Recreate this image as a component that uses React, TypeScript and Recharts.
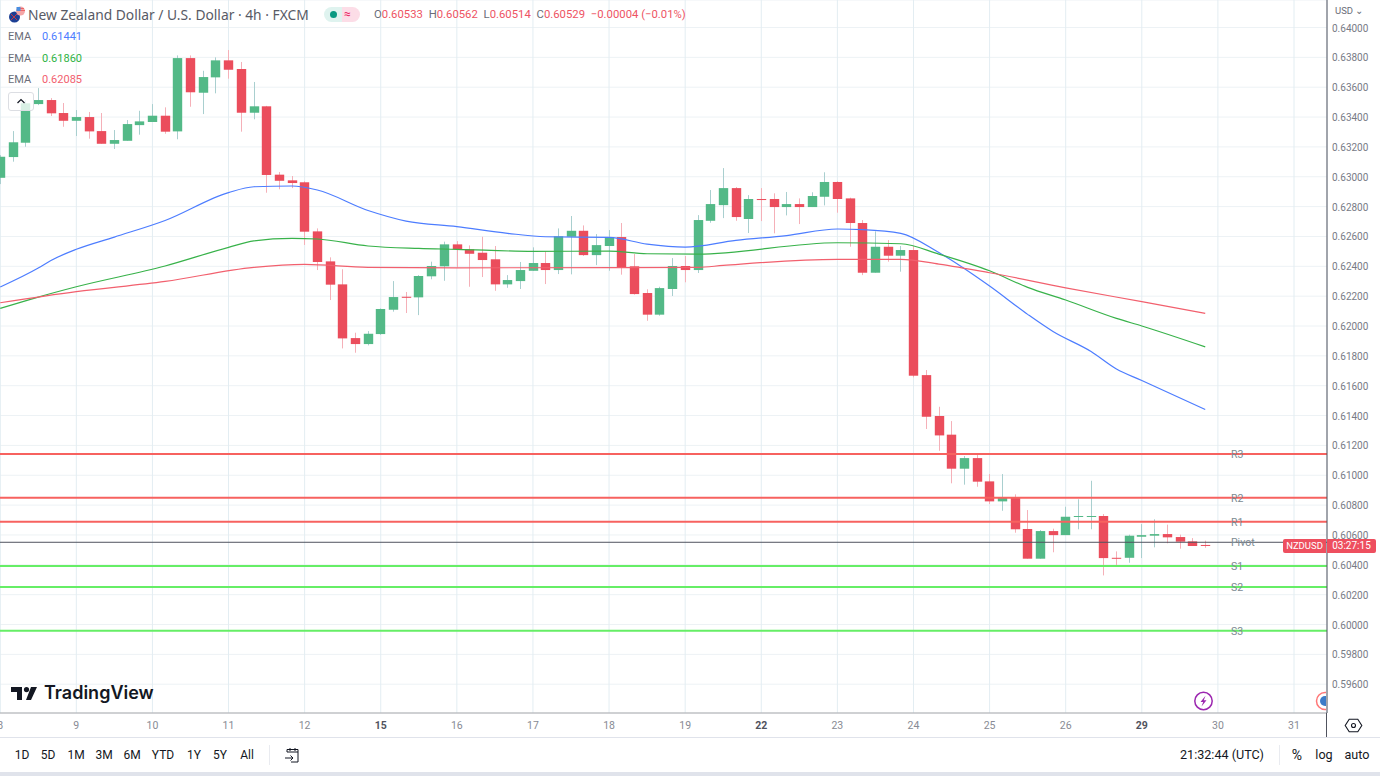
import React from 'react';
import { ComposedChart, Bar, Line, XAxis, YAxis, CartesianGrid, ReferenceLine } from 'recharts';

const opens = [0.62993,0.63132,0.63228,0.63487,0.63514,0.63427,0.63375,0.63400,0.63306,0.63221,0.63241,0.63346,0.63367,0.63409,0.63304,0.63795,0.63563,0.63666,0.63780,0.63722,0.63429,0.63472,0.63014,0.62976,0.62963,0.62634,0.62433,0.62279,0.61919,0.61879,0.61946,0.62109,0.62196,0.62192,0.62333,0.62400,0.62547,0.62514,0.62491,0.62447,0.62279,0.62301,0.62370,0.62422,0.62375,0.62598,0.62638,0.62475,0.62536,0.62596,0.62400,0.62221,0.62076,0.62248,0.62402,0.62375,0.62705,0.62810,0.62924,0.62717,0.62851,0.62851,0.62797,0.62817,0.62797,0.62866,0.62965,0.62855,0.62690,0.62357,0.62531,0.62471,0.62509,0.61671,0.61397,0.61272,0.61044,0.61115,0.60959,0.60825,0.60849,0.60640,0.60441,0.60626,0.60599,0.60722,0.60724,0.60727,0.60447,0.60447,0.60588,0.60595,0.60606,0.60586,0.60557,0.60533];
const highs = [0.63145,0.63306,0.63514,0.63594,0.63527,0.63494,0.63447,0.63434,0.63427,0.63313,0.63380,0.63442,0.63487,0.63465,0.63813,0.63813,0.63710,0.63800,0.63849,0.63769,0.63635,0.63475,0.63032,0.63005,0.62970,0.62654,0.62460,0.62380,0.61955,0.61966,0.62118,0.62301,0.62228,0.62341,0.62431,0.62565,0.62569,0.62540,0.62598,0.62536,0.62341,0.62429,0.62527,0.62500,0.62654,0.62737,0.62674,0.62616,0.62643,0.62690,0.62482,0.62246,0.62263,0.62455,0.62469,0.62743,0.62911,0.63058,0.62931,0.62877,0.62924,0.62889,0.62898,0.62855,0.62896,0.63030,0.62970,0.62860,0.62710,0.62634,0.62576,0.62536,0.62536,0.61705,0.61459,0.61363,0.61129,0.61140,0.61008,0.61008,0.60872,0.60767,0.60633,0.60642,0.60789,0.60839,0.60963,0.60740,0.60490,0.60602,0.60673,0.60705,0.60669,0.60602,0.60579,0.60562];
const lows = [0.62951,0.63101,0.63201,0.63480,0.63407,0.63335,0.63273,0.63255,0.63221,0.63186,0.63241,0.63282,0.63367,0.63288,0.63251,0.63469,0.63420,0.63559,0.63657,0.63302,0.63385,0.62893,0.62916,0.62924,0.62543,0.62375,0.62174,0.61850,0.61821,0.61870,0.61940,0.62096,0.62087,0.62073,0.62313,0.62303,0.62393,0.62263,0.62328,0.62236,0.62256,0.62248,0.62370,0.62281,0.62348,0.62346,0.62469,0.62408,0.62370,0.62344,0.62210,0.62035,0.62069,0.62201,0.62293,0.62355,0.62692,0.62723,0.62705,0.62623,0.62703,0.62621,0.62741,0.62683,0.62797,0.62808,0.62759,0.62531,0.62341,0.62357,0.62431,0.62364,0.61656,0.61310,0.61164,0.60946,0.60937,0.60923,0.60807,0.60762,0.60615,0.60441,0.60441,0.60484,0.60599,0.60638,0.60638,0.60329,0.60394,0.60414,0.60445,0.60517,0.60544,0.60508,0.60526,0.60514];
const closes = [0.63134,0.63231,0.63492,0.63514,0.63425,0.63375,0.63400,0.63304,0.63221,0.63246,0.63353,0.63371,0.63409,0.63302,0.63795,0.63566,0.63668,0.63780,0.63717,0.63429,0.63472,0.63012,0.62973,0.62958,0.62632,0.62429,0.62277,0.61917,0.61879,0.61948,0.62114,0.62194,0.62189,0.62335,0.62402,0.62547,0.62514,0.62484,0.62442,0.62279,0.62308,0.62375,0.62422,0.62375,0.62601,0.62638,0.62475,0.62542,0.62596,0.62395,0.62214,0.62076,0.62254,0.62402,0.62375,0.62710,0.62817,0.62924,0.62730,0.62851,0.62844,0.62797,0.62817,0.62797,0.62871,0.62965,0.62851,0.62690,0.62357,0.62531,0.62471,0.62509,0.61667,0.61392,0.61267,0.61044,0.61115,0.60957,0.60825,0.60849,0.60638,0.60441,0.60626,0.60599,0.60722,0.60727,0.60727,0.60445,0.60441,0.60595,0.60599,0.60606,0.60584,0.60555,0.60526,0.60529];

const emaBlueAt = [0,3,4,6,9,13,18,20,23,25,29,32,36,40,43,48,51,54,58,62,66,68,71,74,78,81,83,86,88,90,95];
const emaBlue = [0.62261,0.62388,0.62439,0.62514,0.62596,0.62707,0.62894,0.62933,0.62938,0.62911,0.62774,0.62703,0.62666,0.62621,0.62598,0.62594,0.62549,0.62529,0.62574,0.62606,0.62650,0.62646,0.62621,0.62492,0.62268,0.62078,0.61963,0.61829,0.61712,0.61635,0.61441];
const emaGreenAt = [0,3,6,13,18,20,23,25,29,33,36,42,48,51,55,66,71,74,78,81,84,88,90,95];
const emaGreen = [0.62118,0.62194,0.62263,0.62402,0.62527,0.62571,0.62587,0.62583,0.62536,0.62520,0.62514,0.62500,0.62502,0.62484,0.62482,0.62558,0.62551,0.62482,0.62370,0.62259,0.62174,0.62051,0.62000,0.61860];
const emaRedAt = [0,6,13,20,24,29,36,55,57,66,71,74,78,84,90,95];
const emaRed = [0.62156,0.62230,0.62299,0.62393,0.62413,0.62393,0.62390,0.62393,0.62406,0.62447,0.62447,0.62415,0.62357,0.62256,0.62163,0.62085];

const pivotNames = ['R3','R2','R1','Pivot','S1','S2','S3'];
const pivotValues = [0.61142,0.60849,0.60689,0.60551,0.60392,0.60251,0.59958];
const pivotColors = ['#f7625f','#f7625f','#f7625f','#50535e','#66ee66','#66ee66','#66ee66'];

const dayAt = [0,6,12,18,24,30,36,42,48,54,60,66,72,78,84,90,96,102];
const dayLabels = ['8','9','10','11','12','15','16','17','18','19','22','23','24','25','26','29','30','31'];
const boldDays = ['15','22','29'];
const priceTicks = [0.64,0.638,0.636,0.634,0.632,0.63,0.628,0.626,0.624,0.622,0.62,0.618,0.616,0.614,0.612,0.61,0.608,0.606,0.604,0.602,0.6,0.598,0.596];
const ranges = ['1D','5D','1M','3M','6M','YTD','1Y','5Y','All'];
const rangeX = [22,48,76,104,132,163,194,220,247];

const rows = opens.map((o, i) => {
  const pick = (at: number[], vals: number[]) => { const k = at.indexOf(i); return k >= 0 ? vals[k] : null; };
  return { i, o, h: highs[i], l: lows[i], c: closes[i], range: [lows[i], highs[i]],
    blue: pick(emaBlueAt, emaBlue), green: pick(emaGreenAt, emaGreen), red: pick(emaRedAt, emaRed) };
});

const UP = '#53b987', DOWN = '#eb4d5c';
const FONT = 'Roboto, sans-serif';
const GRAY = '#6a6d78';

function Candle(props: any) {
  const { x, y, width, height, payload } = props;
  const { o, h, l, c } = payload;
  const k = Math.abs(height) / (h - l);
  const cx = Math.round(x + width / 2) + 0.5;
  const top = y + (h - Math.max(o, c)) * k;
  const bh = Math.max(Math.abs(o - c) * k, 1);
  const up = c >= o;
  return (
    <g>
      <line x1={cx} x2={cx} y1={y} y2={y + Math.abs(height)} stroke={up ? '#a9cfcf' : '#f5b0b8'} strokeWidth={1} />
      <rect x={cx - 4.7} width={9.4} y={top} height={bh} fill={up ? UP : DOWN} />
    </g>
  );
}

function DayTick(props: any) {
  const { x, y, payload } = props;
  const label = dayLabels[dayAt.indexOf(payload.value)];
  const bold = boldDays.includes(label);
  return <text x={x} y={y + 8} textAnchor="middle" fontFamily={FONT} fontSize={10.5} fontWeight={bold ? 700 : 400} fill={bold ? '#50535e' : '#888b94'}>{label}</text>;
}

function PriceTick(props: any) {
  const { y, payload } = props;
  return <text x={1332} y={y + 4} fontFamily={FONT} fontSize={10} fill="#787b86">{payload.value.toFixed(5)}</text>;
}

function PivotLabel(props: any) {
  const { viewBox, name } = props;
  return <text x={viewBox.x + 1231} y={viewBox.y + 4} fontFamily={FONT} fontSize={10.5} fill="#7c8a92">{name}</text>;
}

const T = ({ x, y, c, s, w, a, f, children }: any) => (
  <div style={{ position: 'absolute', left: x, top: y, color: c || GRAY, fontSize: s || 12, fontWeight: w || 400, fontFamily: f || FONT, lineHeight: '16px', whiteSpace: 'nowrap', transform: a ? 'translateX(-50%)' : undefined }}>{children}</div>
);

export default function App() {
  return (
    <div style={{ position: 'fixed', left: 0, top: 0, width: 1380, height: 776, overflow: 'hidden', background: '#fff' }}>
      <ComposedChart width={1380} height={776} data={rows} margin={{ top: 0, right: 0, bottom: 0, left: 0 }}>
        <CartesianGrid horizontal={true} vertical={false} stroke="#edf2f5" />
        <CartesianGrid horizontal={false} vertical={true} stroke="#e3edf2" />
        <XAxis dataKey="i" type="number" domain={[-0.016, 104.6]} allowDataOverflow ticks={dayAt} interval={0} tick={<DayTick />} tickLine={false} axisLine={{ stroke: '#a8a8ac' }} height={63} />
        <YAxis orientation="right" type="number" domain={[0.594071, 0.641843]} allowDataOverflow ticks={priceTicks} interval={0} tick={<PriceTick />} tickLine={false} axisLine={{ stroke: '#50535e' }} width={53} />
        <Line dataKey="blue" type="monotone" stroke="#4d7dff" strokeWidth={1.2} dot={false} activeDot={false} connectNulls isAnimationActive={false} />
        <Line dataKey="green" type="monotone" stroke="#38b24a" strokeWidth={1.2} dot={false} activeDot={false} connectNulls isAnimationActive={false} />
        <Line dataKey="red" type="monotone" stroke="#f2606e" strokeWidth={1.2} dot={false} activeDot={false} connectNulls isAnimationActive={false} />
        <Bar dataKey="range" barSize={10} shape={<Candle />} isAnimationActive={false} />
        {pivotValues.map((v, k) => (
          <ReferenceLine key={pivotNames[k]} y={v} stroke={pivotColors[k]} strokeWidth={k === 3 ? 1 : 2} label={<PivotLabel name={pivotNames[k]} />} />
        ))}
      </ComposedChart>

      {/* header */}
      <svg style={{ position: 'absolute', left: 8, top: 6 }} width={18} height={18}>
        <circle cx={6.5} cy={11} r={5.5} fill="#1c3f94" />
        <circle cx={12.5} cy={5} r={4.5} fill="#f4a6a6" />
        <path d="M9 4.5h8M9 2.5h7" stroke="#e66" strokeWidth={1} />
        <rect x={8.5} y={1} width={4} height={4} fill="#4a8fe0" />
        <path d="M3 8l6 6M9 8l-6 6" stroke="#e33" strokeWidth={0.8} />
      </svg>
      <T x={28} y={7} s={13.8} c="#575a65" f='"Noto Sans", sans-serif'>New Zealand Dollar / U.S. Dollar · 4h · FXCM</T>
      <div style={{ position: 'absolute', left: 324, top: 7, width: 18, height: 15, background: '#dff3ef', borderRadius: '8px 0 0 8px' }} />
      <div style={{ position: 'absolute', left: 342, top: 7, width: 18, height: 15, background: '#fcdde7', borderRadius: '0 8px 8px 0' }} />
      <div style={{ position: 'absolute', left: 330, top: 11, width: 7, height: 7, borderRadius: 4, background: '#089981' }} />
      <T x={344} y={6} s={12} c="#e91e63">≈</T>
      <div style={{ position: 'absolute', left: 374, top: 7, fontFamily: FONT, fontSize: 11.3, lineHeight: '16px', color: '#ee5363', whiteSpace: 'nowrap' }}>
        <span style={{ color: GRAY }}>O</span>0.60533 <span style={{ color: GRAY, marginLeft: 3 }}>H</span>0.60562 <span style={{ color: GRAY, marginLeft: 3 }}>L</span>0.60514 <span style={{ color: GRAY, marginLeft: 3 }}>C</span>0.60529 <span style={{ marginLeft: 3 }}>−0.00004</span> (−0.01%)
      </div>
      <T x={8} y={29} s={11}>EMA</T><T x={42} y={29} s={11} c="#4d7dff">0.61441</T>
      <T x={8} y={51} s={11}>EMA</T><T x={42} y={51} s={11} c="#2fb344">0.61860</T>
      <T x={8} y={72} s={11}>EMA</T><T x={42} y={72} s={11} c="#f2606e">0.62085</T>
      <div style={{ position: 'absolute', left: 8, top: 92, width: 24, height: 17, border: '1px solid #dcdee3', borderRadius: 3, background: 'rgba(255,255,255,0.78)' }}>
        <svg width={24} height={17}><path d="M8.5 10l3.5-3.5 3.5 3.5" fill="none" stroke="#131722" strokeWidth={1.2} /></svg>
      </div>

      {/* price scale */}
      <T x={1335} y={3} s={9.5}>USD ⌄</T>
      <div style={{ position: 'absolute', left: 1326, top: 713, width: 1, height: 24, background: '#50535e' }} />
      <div style={{ position: 'absolute', left: 1283, top: 539, width: 43, height: 14, background: '#ee4f5f', borderRadius: '2px 0 0 2px', color: '#fff', fontFamily: FONT, fontSize: 9.5, lineHeight: '14px', textAlign: 'center' }}>NZDUSD</div>
      <div style={{ position: 'absolute', left: 1327, top: 539, width: 49, height: 14, background: '#ee4f5f', borderRadius: '0 2px 2px 0', color: '#fff', fontFamily: FONT, fontSize: 10, lineHeight: '14px', textAlign: 'center' }}>03:27:15</div>

      {/* watermark and markers */}
      <svg style={{ position: 'absolute', left: 11, top: 686 }} width={28} height={15} viewBox="0 0 28 15">
        <path d="M0 1h11v13H6V6H0zM20 14h-5l5-13h6z" fill="#131722" />
        <circle cx={15.5} cy={3.6} r={2.6} fill="#131722" />
      </svg>
      <T x={44} y={685} s={18} w={600} c="#131722" f="Inter, sans-serif">TradingView</T>
      <svg style={{ position: 'absolute', left: 1193, top: 690 }} width={22} height={22}>
        <circle cx={10.5} cy={11} r={8.7} fill="#fff" stroke="#9c27b0" strokeWidth={1.5} />
        <path d="M12.5 5.8L7.5 12h2.7l-1.7 4.5 5-6.2h-2.7z" fill="#9c27b0" />
      </svg>
      <svg style={{ position: 'absolute', left: 1315, top: 690 }} width={11} height={22}>
        <circle cx={10} cy={11} r={8.5} fill="#fff" stroke="#f77" strokeWidth={1.5} />
        <circle cx={10} cy={11} r={5} fill="#3c7bc8" />
      </svg>
      <svg style={{ position: 'absolute', left: 1344, top: 716 }} width={19} height={19}>
        <path d="M5.2 3.2h8.6l4 6.3-4 6.3H5.2l-4-6.3z" fill="none" stroke="#131722" strokeWidth={1.1} />
        <circle cx={9.5} cy={9.5} r={2} fill="none" stroke="#131722" strokeWidth={1.1} />
      </svg>

      {/* bottom toolbar */}
      <div style={{ position: 'absolute', left: 0, top: 737, width: 1380, height: 1, background: '#e0e3eb' }} />
      <div style={{ position: 'absolute', left: 0, top: 772, width: 1380, height: 4, background: '#e0e3eb' }} />
      {ranges.map((r, k) => <T key={r} x={rangeX[k]} y={747} s={12} c="#131722" a>{r}</T>)}
      <div style={{ position: 'absolute', left: 269, top: 745, width: 1, height: 20, background: '#e9ebf0' }} />
      <svg style={{ position: 'absolute', left: 284, top: 747 }} width={17} height={17}>
        <path d="M3 5V2.5h11V15H7M3 5h11M6 1v3M11 1v3" fill="none" stroke="#131722" strokeWidth={1} />
        <path d="M1 11h8M6.5 8.5L9 11l-2.5 2.5" fill="none" stroke="#131722" strokeWidth={1} />
      </svg>
      <T x={1180} y={747} s={12.6} c="#131722">21:32:44 (UTC)</T>
      <div style={{ position: 'absolute', left: 1279, top: 745, width: 1, height: 20, background: '#e9ebf0' }} />
      <T x={1297} y={747} s={14} c="#131722" a>%</T>
      <T x={1324} y={747} s={12.6} c="#131722" a>log</T>
      <T x={1357} y={747} s={12.6} c="#131722" a>auto</T>
    </div>
  );
}
